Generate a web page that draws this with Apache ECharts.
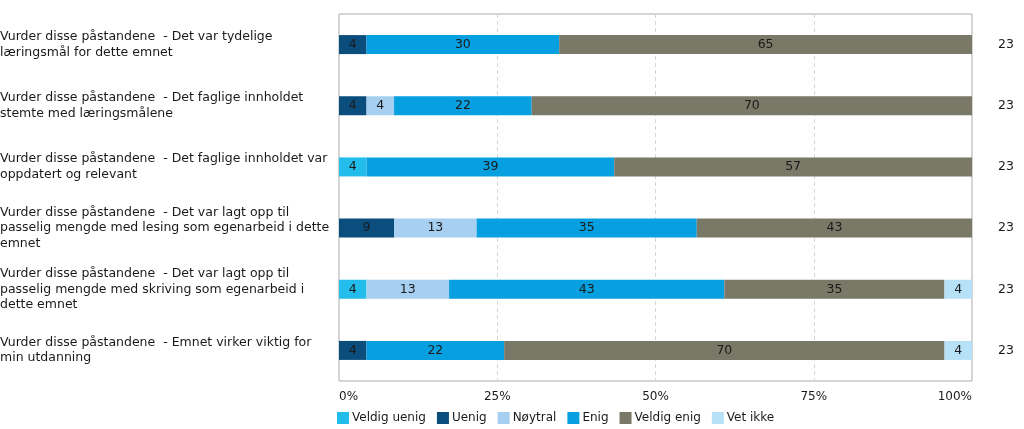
<!DOCTYPE html>
<html>
<head>
<meta charset="utf-8">
<script src="https://cdn.jsdelivr.net/npm/echarts@6/dist/echarts.min.js"></script>
<style>
html,body{margin:0;padding:0;background:#fff;}
#chart{width:1024px;height:429px;}
</style>
</head>
<body>
<div id="chart"></div>
<script>
const categories = [
  'Vurder disse påstandene  - Det var tydelige\nlæringsmål for dette emnet',
  'Vurder disse påstandene  - Det faglige innholdet\nstemte med læringsmålene',
  'Vurder disse påstandene  - Det faglige innholdet var\noppdatert og relevant',
  'Vurder disse påstandene  - Det var lagt opp til\npasselig mengde med lesing som egenarbeid i dette\nemnet',
  'Vurder disse påstandene  - Det var lagt opp til\npasselig mengde med skriving som egenarbeid i\ndette emnet',
  'Vurder disse påstandene  - Emnet virker viktig for\nmin utdanning'
];
const counts = ['23', '23', '23', '23', '23', '23'];
const seriesNames = ['Veldig uenig', 'Uenig', 'Nøytral', 'Enig', 'Veldig enig', 'Vet ikke'];
const veldigUenig = [0, 0, 4.35, 0, 4.35, 0];
const uenig       = [4.35, 4.35, 0, 8.70, 0, 4.35];
const noytral     = [0, 4.35, 0, 13.04, 13.04, 0];
const enig        = [30.43, 21.74, 39.13, 34.78, 43.48, 21.74];
const veldigEnig  = [65.22, 69.57, 56.52, 43.48, 34.78, 69.57];
const vetIkke     = [0, 0, 0, 0, 4.35, 4.35];
const xTicks = [0, 25, 50, 75, 100];

const colors = ['#22bdea', '#0b4d7d', '#a6cff1', '#069fe0', '#7a7867', '#b6e1f6'];
const values = [veldigUenig, uenig, noytral, enig, veldigEnig, vetIkke];
const FONT = 'DejaVu Sans';

const chart = echarts.init(document.getElementById('chart'));
chart.setOption({
  animation: false,
  textStyle: { fontFamily: FONT },
  grid: { left: 339, right: 52, top: 14, bottom: 48, show: true, borderColor: '#ababab', borderWidth: 1, outerBoundsMode: 'none', containLabel: false },
  legend: {
    left: 337, top: 412, padding: 0,
    icon: 'rect', itemWidth: 12, itemHeight: 12, itemGap: 11,
    textStyle: { fontFamily: FONT, fontSize: 12, color: '#1a1a1a', padding: [0, 0, 0, -2] },
    data: seriesNames
  },
  xAxis: {
    type: 'value', min: 0, max: 100, interval: 25,
    axisLine: { show: false }, axisTick: { show: false },
    axisLabel: {
      formatter: v => xTicks.includes(v) ? v + '%' : '',
      fontFamily: FONT, fontSize: 12, color: '#1a1a1a', margin: 10,
      alignMinLabel: 'left', alignMaxLabel: 'right'
    },
    splitLine: { show: true, showMinLine: false, showMaxLine: false, lineStyle: { color: '#d6d6d6', type: [4, 3] } }
  },
  yAxis: [{
    type: 'category', data: categories, inverse: true,
    axisLine: { show: false }, axisTick: { show: false },
    axisLabel: {
      align: 'left', margin: 339, fontFamily: FONT, fontSize: 12.5, lineHeight: 15.5, color: '#1a1a1a',
      padding: [5, 0, 0, 0]
    }
  }, {
    type: 'category', data: counts, inverse: true, position: 'right',
    axisLine: { show: false }, axisTick: { show: false },
    axisLabel: { fontFamily: FONT, fontSize: 12.5, color: '#1a1a1a', margin: 26 }
  }],
  series: seriesNames.map((name, i) => ({
    name, type: 'bar', stack: 'total', barWidth: 19,
    data: values[i],
    itemStyle: { color: colors[i] },
    label: {
      show: true, position: 'inside', fontFamily: FONT, fontSize: 12.5, color: '#1a1a1a',
      formatter: p => p.value > 0 ? Math.round(p.value) : ''
    }
  }))
});
</script>
</body>
</html>
